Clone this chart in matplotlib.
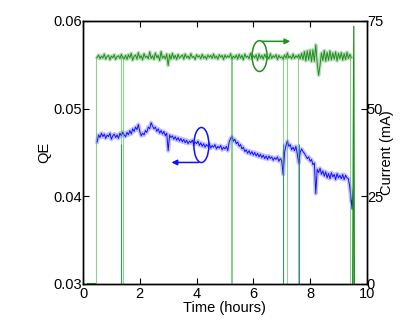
import numpy as np
import matplotlib
matplotlib.use("Agg")
import matplotlib.pyplot as plt
from matplotlib.patches import Ellipse

plt.rcParams['font.family'] = ['Liberation Sans', 'DejaVu Sans']
plt.rcParams['font.size'] = 10.5

# sample times (hours), one every 3 minutes
t = np.round(np.arange(0.5, 9.5, 0.05), 2)

# beam current (mA), right axis
current_ma = [
    64.6, 65.3, 64.2, 65.0, 64.4, 65.6, 64.1, 64.9, 65.2, 63.9, 65.0, 64.5, 65.4, 64.0, 64.8, 65.1, 64.3, 65.5, 64.6, 64.2,
    65.2, 64.0, 65.4, 64.5, 65.8, 63.8, 64.9, 65.3, 64.1, 66.0, 64.4, 65.1, 63.9, 65.7, 64.6, 65.0, 64.2, 66.2, 64.3, 65.1,
    64.0, 65.9, 64.5, 65.2, 63.7, 66.3, 64.4, 65.0, 64.2, 65.6, 62.3, 65.4, 64.1, 65.8, 64.3, 65.2, 64.0, 65.5, 64.4, 64.9,
    65.3, 64.1, 65.6, 64.5, 65.0, 64.2, 65.7, 64.6, 64.9, 64.0, 65.4, 64.7, 65.1, 64.2, 65.5, 64.4, 65.0, 64.1, 65.3, 64.6,
    65.2, 64.3, 65.6, 64.4, 65.0, 64.1, 65.4, 64.7, 65.2, 64.0, 65.3, 64.5, 65.1, 64.6, 65.7, 64.2, 65.0, 64.4, 65.3, 64.1,
    65.5, 64.4, 65.2, 63.9, 65.6, 64.6, 65.0, 64.2, 65.8, 64.3, 65.1, 64.5, 65.4, 63.8, 65.6, 64.4, 65.2, 64.1, 65.5, 64.6,
    65.0, 64.2, 65.7, 64.3, 65.1, 64.6, 65.4, 64.0, 65.2, 64.5, 64.8, 64.1, 65.3, 64.4, 65.9, 64.5, 65.0, 64.2, 65.6, 64.3,
    65.1, 64.6, 65.4, 64.2, 65.8, 64.0, 66.3, 63.6, 66.5, 63.9, 66.7, 63.4, 66.8, 63.5, 68.2, 63.0, 59.5, 62.4, 65.9, 63.7,
    66.6, 63.5, 66.1, 63.8, 66.5, 63.9, 65.9, 64.1, 66.2, 63.6, 65.8, 64.2, 66.0, 63.8, 65.7, 64.0, 66.1, 64.3, 65.5, 64.6,
]

# quantum efficiency, left axis
qe = [
    0.0462, 0.0470, 0.0467, 0.0472, 0.0468, 0.0471, 0.0466, 0.0470, 0.0468, 0.0472, 0.0465, 0.0469, 0.0471, 0.0467, 0.0470, 0.0466, 0.0472, 0.0469, 0.0473, 0.0470,
    0.0468, 0.0473, 0.0470, 0.0475, 0.0471, 0.0477, 0.0474, 0.0479, 0.0476, 0.0482, 0.0474, 0.0469, 0.0472, 0.0470, 0.0475, 0.0473, 0.0479, 0.0477, 0.0484, 0.0480,
    0.0477, 0.0479, 0.0474, 0.0477, 0.0472, 0.0475, 0.0471, 0.0474, 0.0469, 0.0472, 0.0452, 0.0470, 0.0467, 0.0469, 0.0465, 0.0468, 0.0464, 0.0467, 0.0463, 0.0466,
    0.0462, 0.0465, 0.0461, 0.0464, 0.0460, 0.0463, 0.0461, 0.0464, 0.0459, 0.0462, 0.0460, 0.0463, 0.0458, 0.0461, 0.0457, 0.0460, 0.0456, 0.0459, 0.0457, 0.0460,
    0.0455, 0.0458, 0.0456, 0.0459, 0.0454, 0.0457, 0.0455, 0.0458, 0.0453, 0.0456, 0.0454, 0.0457, 0.0452, 0.0462, 0.0466, 0.0468, 0.0463, 0.0465, 0.0460, 0.0462,
    0.0457, 0.0459, 0.0454, 0.0456, 0.0451, 0.0453, 0.0449, 0.0452, 0.0448, 0.0451, 0.0447, 0.0450, 0.0446, 0.0449, 0.0445, 0.0448, 0.0444, 0.0447, 0.0443, 0.0446,
    0.0442, 0.0446, 0.0443, 0.0445, 0.0441, 0.0444, 0.0442, 0.0445, 0.0440, 0.0443, 0.0441, 0.0425, 0.0450, 0.0458, 0.0463, 0.0457, 0.0459, 0.0453, 0.0456, 0.0452,
    0.0457, 0.0448, 0.0438, 0.0450, 0.0454, 0.0451, 0.0449, 0.0446, 0.0443, 0.0445, 0.0440, 0.0442, 0.0436, 0.0438, 0.0403, 0.0431, 0.0427, 0.0432, 0.0425, 0.0429,
    0.0423, 0.0428, 0.0421, 0.0426, 0.0420, 0.0427, 0.0422, 0.0425, 0.0419, 0.0426, 0.0421, 0.0424, 0.0420, 0.0425, 0.0419, 0.0424, 0.0421, 0.0420, 0.0410, 0.0395,
]

# end of run
tail_t = [9.48, 9.52]
tail_qe = [0.0385, 0.0407]

# beam trips: current falls to zero
drop_t = [0.46, 1.33, 1.40, 5.20, 5.25, 7.04, 7.18, 7.57, 9.40, 9.50]
qe_drop_t = [1.35, 7.06, 7.60]
spike_t = 9.54
spike_ma = 73.5

green = '#1f8f1f'
blue = '#1010ff'

fig = plt.figure(figsize=(4.15, 3.23), dpi=100)
ax = fig.add_axes([0.2, 0.121, 0.684, 0.814])
ax2 = ax.twinx()

# left: QE
ax.plot(t, qe, color=blue, lw=3.0, alpha=0.25)
ax.plot(t, qe, color=blue, lw=0.7)
ax.plot([t[-1]] + tail_t, [qe[-1]] + tail_qe, color=blue, lw=0.8)
ax.vlines(qe_drop_t, 0.02, 0.046, color='#1060a0', lw=0.8, alpha=0.8)

# right: current
ax2.plot(t, current_ma, color=green, lw=2.6, alpha=0.3)
ax2.plot(t, current_ma, color=green, lw=0.7)
ax2.vlines(drop_t, 0, 65, color='#3aa63a', lw=0.8, alpha=0.55)
ax2.plot([0.15, 0.42], [0.3, 0.3], color=green, lw=0.8)
ax2.plot([9.50, spike_t, 9.56], [0, spike_ma, 0], color=green, lw=0.9)

ax.set_xlim(0, 10)
ax.set_ylim(0.03, 0.06)
ax2.set_ylim(0, 75)
ax.set_xticks([0, 2, 4, 6, 8, 10])
ax.set_yticks([0.03, 0.04, 0.05, 0.06])
ax.set_yticklabels(['0.03', '0.04', '0.05', '0.06'])
ax2.set_yticks([0, 25, 50, 75])

ax.tick_params(direction='in', length=4, top=True, right=False, pad=1, labelsize=10.5)
ax2.tick_params(direction='in', length=4, pad=0, labelsize=10.5)
ax.tick_params(axis='x', pad=2)
for a in (ax, ax2):
    for s in a.spines.values():
        s.set_linewidth(1.0)

ax.set_xlabel('Time (hours)', labelpad=0)
ax.set_ylabel('QE', labelpad=1)
ax2.set_ylabel('Current (mA)', labelpad=-2)

# markers telling which axis each curve uses
ax.add_patch(Ellipse((4.17, 0.04585), 0.53, 0.0040, fill=False, ec=blue, lw=1.1))
ax.annotate('', xy=(3.02, 0.04386), xytext=(4.17, 0.04386),
            arrowprops=dict(arrowstyle='-|>', color=blue, lw=1.1, mutation_scale=8))
ax2.add_patch(Ellipse((6.22, 65.0), 0.53, 8.8, fill=False, ec=green, lw=1.1))
ax2.annotate('', xy=(7.4, 69.2), xytext=(6.22, 69.2),
             arrowprops=dict(arrowstyle='-|>', color=green, lw=1.1, mutation_scale=8))

fig.savefig('out.png', dpi=100)
